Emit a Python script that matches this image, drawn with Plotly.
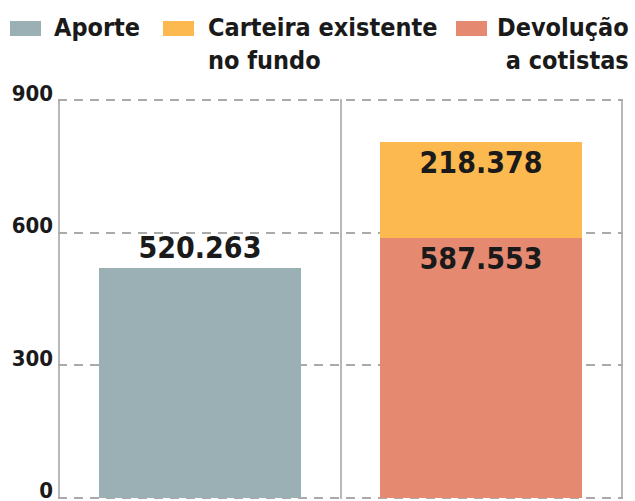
import plotly.graph_objects as go

categories = [0, 1]
aporte = [520.263, None]
devolucao = [None, 587.553]
carteira = [None, 218.378]
tick_vals = [0, 300, 600, 900]
tick_text = ["0", "300", "600", "900"]

FONT = "DejaVu Sans Condensed"
C_APORTE = "#9AB0B5"
C_CART = "#FBB94F"
C_DEV = "#E58A71"

def f(size):
    return dict(size=size, color="#1a1a1a", family=FONT, weight="bold")

fig = go.Figure()
fig.add_trace(go.Bar(x=categories, y=aporte, name="Aporte", marker_color=C_APORTE,
                     width=0.72, texttemplate="%{y:.3f}", textposition="outside",
                     textfont=f(30), cliponaxis=False))
fig.add_trace(go.Bar(x=categories, y=devolucao, name="Devolução a cotistas", marker_color=C_DEV,
                     width=0.72, texttemplate="%{y:.3f}", textposition="inside",
                     insidetextanchor="end", textfont=f(30)))
fig.add_trace(go.Bar(x=categories, y=carteira, name="Carteira existente no fundo", marker_color=C_CART,
                     width=0.72, texttemplate="%{y:.3f}", textposition="inside",
                     insidetextanchor="end", textfont=f(30)))

fig.update_traces(marker_line_width=0)

L, T, W, H = 58, 99, 565, 400

def px(x):
    return (x - L) / W

def py(y):
    return 1 + (T - y) / H

# manual legend
legend = [
    (10, 41, "Aporte", 52, "left", C_APORTE),
    (163, 194, "Carteira existente<br>no fundo", 206, "left", C_CART),
    (456, 487, "Devolução<br>a cotistas", 631, "right", C_DEV),
]
for x0, x1, label, tx, align, col in legend:
    fig.add_shape(type="rect", xref="paper", yref="paper",
                  x0=px(x0), x1=px(x1), y0=py(36), y1=py(21),
                  fillcolor=col, line_width=0)
    fig.add_annotation(xref="paper", yref="paper",
                       x=px(tx), y=py(11),
                       xanchor=align, yanchor="top", align=align,
                       text=label, showarrow=False, font=f(25))

fig.update_layout(
    width=635, height=501,
    margin=dict(l=L, r=635 - L - W, t=T, b=501 - T - H),
    barmode="stack",
    showlegend=False,
    plot_bgcolor="white", paper_bgcolor="white",
    xaxis=dict(range=[-0.505, 1.505], tickvals=[-0.5, 0.5, 1.5], showticklabels=False,
               showgrid=True, gridcolor="#b8b8b8", gridwidth=2, zeroline=False,
               ticks="", automargin=False),
    yaxis=dict(range=[-3, 903], tickvals=tick_vals, ticktext=tick_text,
               showgrid=True, gridcolor="#aaaaaa", gridwidth=1.5, griddash="9px,7px",
               zeroline=False, ticks="", ticklabelshift=-7, ticklabelstandoff=4,
               ticklabeloverflow="allow", automargin=False,
               tickfont=f(22)),
)

fig.write_html("out.html")
